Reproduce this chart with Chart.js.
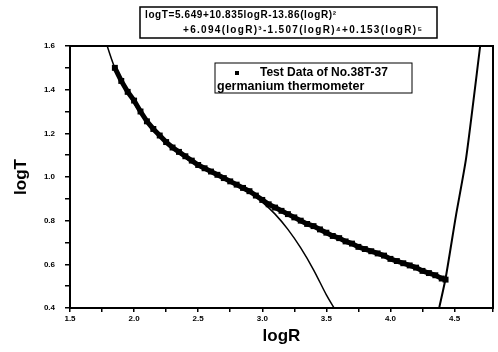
<!DOCTYPE html>
<html lang="en">
<head>
<meta charset="UTF-8">
<title>logT vs logR</title>
<script src="https://cdn.jsdelivr.net/npm/chart.js"></script>
<style>
  html, body { margin: 0; padding: 0; background: #fff; }
  canvas { display: block; }
</style>
</head>
<body>
<canvas id="grafico" width="498" height="352"></canvas>
<script>
var dataLogR = [1.85, 1.90, 1.95, 2.00, 2.05, 2.10, 2.15, 2.20, 2.25, 2.30, 2.35, 2.40, 2.45, 2.50,
                2.55, 2.60, 2.65, 2.70, 2.75, 2.80, 2.85, 2.90, 2.95, 3.00, 3.05, 3.10, 3.15, 3.20,
                3.25, 3.30, 3.35, 3.40, 3.45, 3.50, 3.55, 3.60, 3.65, 3.70, 3.75, 3.80, 3.85, 3.90,
                3.95, 4.00, 4.05, 4.10, 4.15, 4.20, 4.25, 4.30, 4.35, 4.40, 4.43];
var dataLogT = [1.50, 1.44, 1.39, 1.35, 1.30, 1.255, 1.22, 1.19, 1.16, 1.135, 1.115, 1.095, 1.075, 1.055,
                1.04, 1.025, 1.01, 0.995, 0.98, 0.965, 0.95, 0.935, 0.915, 0.895, 0.875, 0.86, 0.845, 0.83,
                0.815, 0.80, 0.785, 0.775, 0.76, 0.745, 0.73, 0.72, 0.705, 0.695, 0.68, 0.67, 0.66, 0.65,
                0.64, 0.625, 0.615, 0.605, 0.595, 0.585, 0.57, 0.56, 0.55, 0.535, 0.53];

// polynomial fit (thin line), low-R branch
var fitLogR = [1.79, 1.85, 1.95, 2.10, 2.30, 2.50, 2.70, 2.90, 3.00, 3.10, 3.20, 3.30, 3.40, 3.50, 3.56];
var fitLogT = [1.60, 1.50, 1.385, 1.25, 1.13, 1.05, 0.99, 0.93, 0.885, 0.83, 0.76, 0.675, 0.575, 0.46, 0.40];

// steep branch on the right
var fit2LogR = [4.38, 4.43, 4.51, 4.59, 4.70];
var fit2LogT = [0.40, 0.535, 0.82, 1.085, 1.60];

var equacao = ['logT=5.649+10.835logR-13.86(logR)\u00b2',
               '+6.094(logR)\u00b3-1.507(logR)\u2074+0.153(logR)\u2075'];
var legendaTexto = ['Test Data of No.38T-37', 'germanium thermometer'];

function pares(xs, ys) {
    return xs.map(function (x, i) { return { x: x, y: ys[i] }; });
}

var fonte = '"Liberation Sans", Arial, sans-serif';

// frame, equation box and legend box
var extras = {
    id: 'extras',
    afterDraw: function (chart) {
        var ctx = chart.ctx, a = chart.chartArea;
        ctx.save();
        ctx.strokeStyle = '#000';
        ctx.lineWidth = 2;
        ctx.strokeRect(a.left, a.top, a.right - a.left, a.bottom - a.top);

        // equation box
        ctx.lineWidth = 1.5;
        ctx.strokeRect(140, 7, 297, 31);
        ctx.fillStyle = '#000';
        ctx.font = 'bold 10px ' + fonte;
        ctx.textBaseline = 'middle';
        ctx.textAlign = 'left';
        ctx.letterSpacing = '0.6px';
        ctx.fillText(equacao[0], 145, 15);
        ctx.letterSpacing = '1.3px';
        ctx.fillText(equacao[1], 183, 30);
        ctx.letterSpacing = '0px';

        // legend box
        ctx.lineWidth = 1;
        ctx.strokeRect(215, 63, 197, 30);
        ctx.fillRect(235, 71, 4, 4);
        ctx.font = 'bold 12px ' + fonte;
        ctx.fillText(legendaTexto[0], 260, 73);
        ctx.font = 'bold 12.5px ' + fonte;
        ctx.fillText(legendaTexto[1], 217, 87);
        ctx.restore();
    }
};

new Chart(document.getElementById('grafico').getContext('2d'), {
    type: 'scatter',
    data: {
        datasets: [
            {
                label: legendaTexto[0],
                data: pares(dataLogR, dataLogT),
                showLine: true,
                borderColor: '#000',
                borderWidth: 5,
                backgroundColor: '#000',
                pointStyle: 'rect',
                pointRadius: 4.2,
                pointBorderWidth: 0
            },
            {
                label: 'fit',
                data: pares(fitLogR, fitLogT),
                showLine: true,
                borderColor: '#000',
                borderWidth: 1.5,
                pointRadius: 0,
                tension: 0.3
            },
            {
                label: 'fit2',
                data: pares(fit2LogR, fit2LogT),
                showLine: true,
                borderColor: '#000',
                borderWidth: 2,
                pointRadius: 0,
                tension: 0.2
            }
        ]
    },
    options: {
        responsive: false,
        animation: false,
        layout: { padding: { top: 46, right: 5, left: 0, bottom: 0 } },
        plugins: {
            legend: { display: false },
            tooltip: { enabled: false }
        },
        scales: {
            x: {
                type: 'linear',
                min: 1.5,
                max: 4.8,
                grid: { drawOnChartArea: false, color: '#000', tickLength: 4, lineWidth: 1.5 },
                border: { color: '#000', width: 2 },
                ticks: {
                    stepSize: 0.25,
                    autoSkip: false,
                    maxRotation: 0,
                    color: '#000',
                    padding: 2,
                    font: { family: fonte, size: 8, weight: 'bold' },
                    callback: function (v) {
                        return Math.round(v * 100) % 50 === 0 ? v.toFixed(1) : '';
                    }
                },
                title: {
                    display: true,
                    text: 'logR',
                    color: '#000',
                    padding: { top: 0, bottom: 5 },
                    font: { family: fonte, size: 17, weight: 'bold' }
                },
                afterFit: function (s) { s.height = 44; }
            },
            y: {
                type: 'linear',
                min: 0.4,
                max: 1.6,
                grid: { drawOnChartArea: false, color: '#000', tickLength: 5, lineWidth: 1.5 },
                border: { color: '#000', width: 2 },
                ticks: {
                    stepSize: 0.1,
                    autoSkip: false,
                    color: '#000',
                    padding: 10,
                    font: { family: fonte, size: 8, weight: 'bold' },
                    callback: function (v) {
                        return Math.round(v * 10) % 2 === 0 ? v.toFixed(1) : '';
                    }
                },
                title: {
                    display: true,
                    text: 'logT',
                    color: '#000',
                    padding: { top: 11, bottom: 0 },
                    font: { family: fonte, size: 17, weight: 'bold' }
                },
                afterFit: function (s) { s.width = 70; }
            }
        }
    },
    plugins: [extras]
});
</script>
</body>
</html>
